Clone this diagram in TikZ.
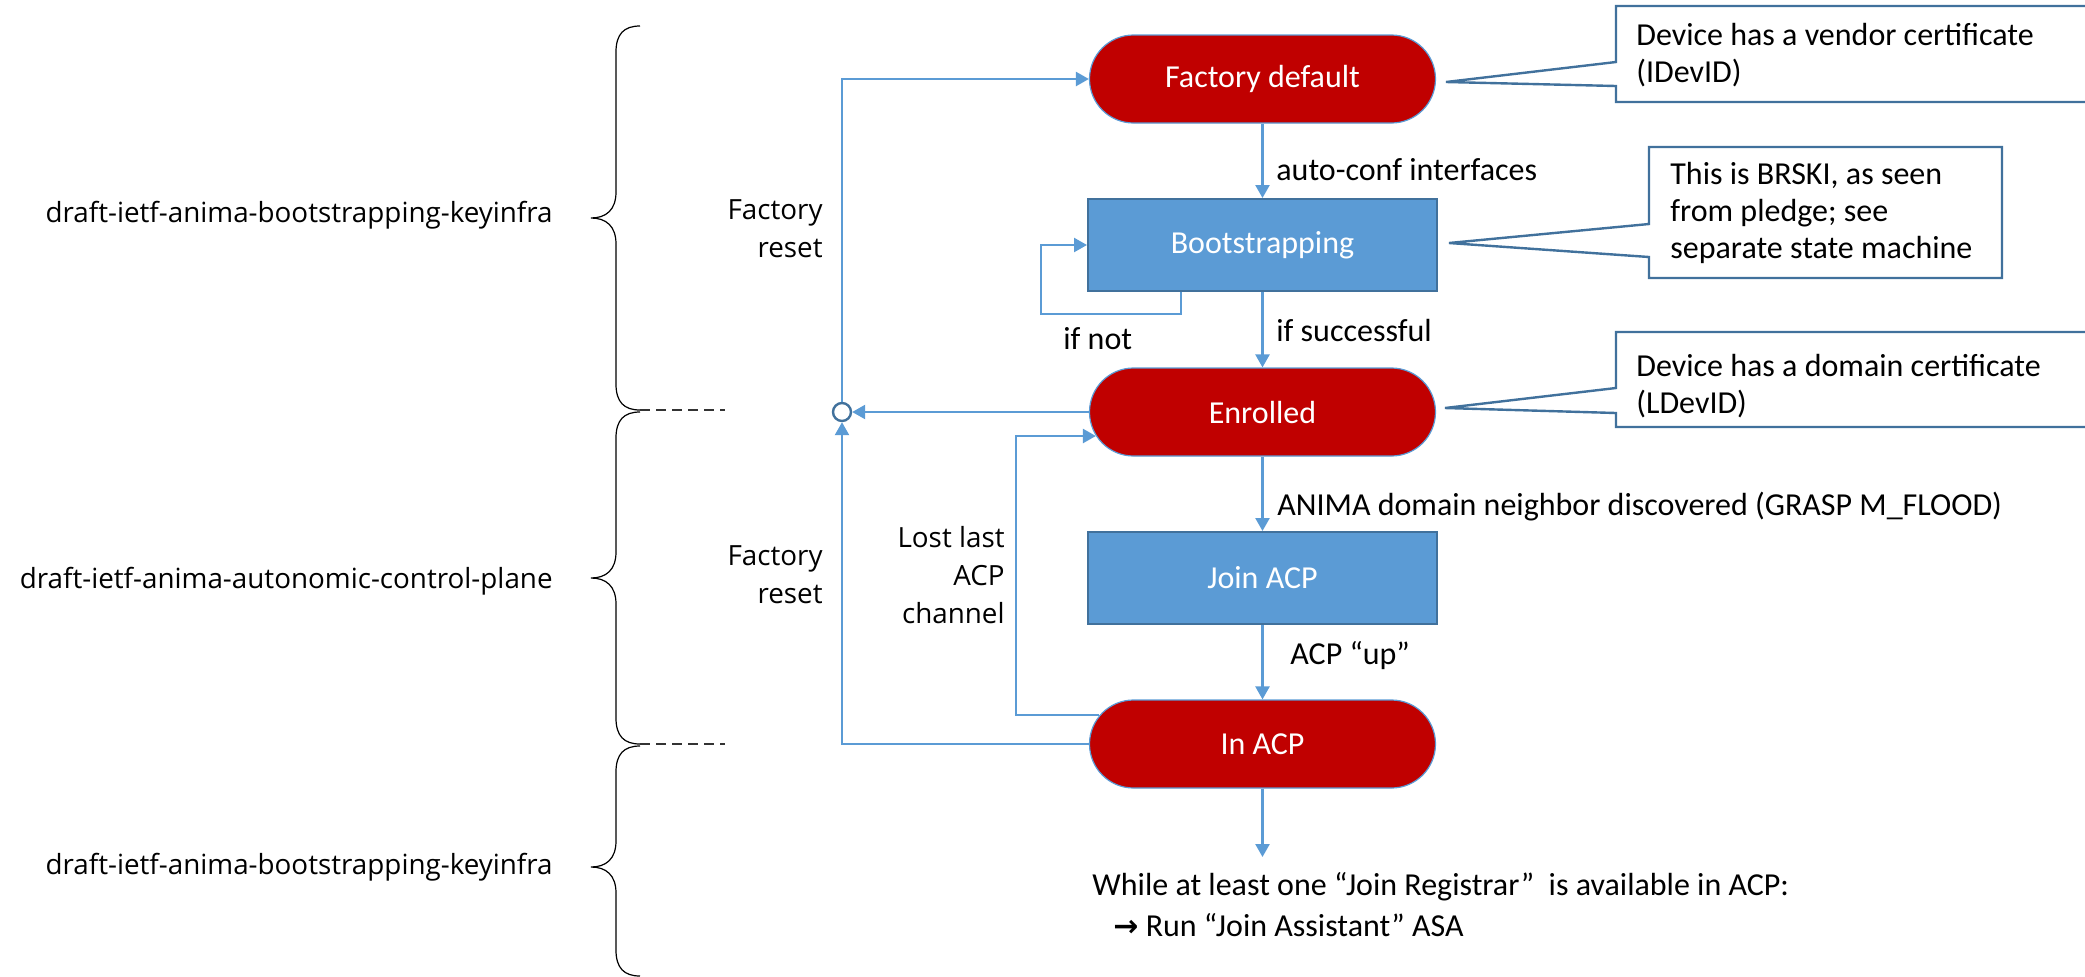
\documentclass[tikz,border=0pt]{standalone}
\usepackage{fontspec}
\setmainfont{Carlito}
\newfontfamily\segfont{Open Sans}
\newfontfamily\arrfont{DejaVu Sans}
\usetikzlibrary{arrows.meta}
\definecolor{pillred}{HTML}{C00000}
\definecolor{accent}{HTML}{5B9BD5}
\definecolor{darkblue}{HTML}{41719C}
\begin{document}
\begin{tikzpicture}[x=0.5pt,y=-0.5pt,
  pill/.style={draw=accent, line width=0.6pt, fill=pillred, rounded corners=22pt,
    minimum width=173pt, minimum height=44pt, text=white, inner sep=0pt,
    font=\fontsize{16}{18}\selectfont},
  stepbox/.style={draw=darkblue, line width=1pt, fill=accent, minimum width=174.5pt,
    minimum height=46pt, text=white, inner sep=0pt, font=\fontsize{16}{18}\selectfont},
  flow/.style={draw=accent, line width=1.2pt, -{Triangle[length=6.5pt,width=7pt]}},
  lbl/.style={font=\fontsize{16}{18.5}\selectfont, inner sep=0pt, align=left},
  seglbl/.style={font=\segfont\fontsize{13.9}{19}\selectfont, inner sep=0pt},
  callout/.style={draw=darkblue, fill=white, line width=1.2pt},
  brace/.style={draw=black, line width=0.6pt},
  sep/.style={draw=black!80, line width=0.6pt, dash pattern=on 5pt off 3pt}
]
\useasboundingbox (0,0) rectangle (2085,976);
\clip (0,0) rectangle (2085,976);

% left labels
\node[seglbl, anchor=east] (l1) at (553,215) {draft-ietf-anima-bootstrapping-keyinfra};
\node[seglbl, anchor=east] (l2) at (553,581) {draft-ietf-anima-autonomic-control-plane};
\node[seglbl, anchor=east] (l3) at (553,867) {draft-ietf-anima-bootstrapping-keyinfra};

% braces
\path[brace] (640,26) .. controls (624,26) and (616,34) .. (616,52) -- (616,192)
  .. controls (616,210) and (606,218) .. (591,218) .. controls (606,218) and (616,226) .. (616,244)
  -- (616,384) .. controls (616,402) and (624,410) .. (640,410);
\path[brace] (640,412) .. controls (624,412) and (616,420) .. (616,438) -- (616,552)
  .. controls (616,570) and (606,578) .. (591,578) .. controls (606,578) and (616,586) .. (616,604)
  -- (616,718) .. controls (616,736) and (624,744) .. (640,744);
\path[brace] (640,746) .. controls (624,746) and (616,754) .. (616,772) -- (616,841)
  .. controls (616,859) and (606,867) .. (591,867) .. controls (606,867) and (616,875) .. (616,893)
  -- (616,950) .. controls (616,968) and (624,976) .. (640,976);
\path[sep] (640,410) -- (725,410);
\path[sep] (640,744) -- (725,744);

% callouts
\path[callout] (1616,6) -- (2110,6) -- (2110,102) -- (1616,102) -- (1616,86) -- (1446,82) -- (1616,62) -- cycle;
\node[lbl, anchor=west] (t1) at (1636,55) {Device has a vendor certificate\\(IDevID)};
\path[callout] (1649,147) -- (2002,147) -- (2002,278) -- (1649,278) -- (1649,257) -- (1449,243) -- (1649,224) -- cycle;
\node[lbl, anchor=west] (t2) at (1670,213) {This is BRSKI, as seen\\from pledge; see\\separate state machine};
\path[callout] (1616,332) -- (2110,332) -- (2110,427) -- (1616,427) -- (1616,413) -- (1445,408) -- (1616,388) -- cycle;
\node[lbl, anchor=west] (t3) at (1636,386) {Device has a domain certificate\\(LDevID)};

% states
\node[pill] (fd) at (1262.5,79) {Factory default};
\node[stepbox] (bs) at (1262.5,245) {Bootstrapping};
\node[pill] (en) at (1262.5,412) {Enrolled};
\node[stepbox] (jo) at (1262.5,578) {Join ACP};
\node[pill] (ia) at (1262.5,744) {In ACP};
\coordinate (out) at (1262.5,857);
\node[circle, draw=darkblue, fill=white, line width=1.2pt, minimum size=9pt, inner sep=0pt] (c) at (842,412) {};

% connectors
\draw[flow] (fd) -- (bs);
\draw[flow] (bs) -- (en);
\draw[flow] (en) -- (jo);
\draw[flow] (jo) -- (ia);
\draw[flow] (ia) -- (out);
\draw[flow] (en.west) -- (c);
\draw[flow] (ia.west) -| (c);
\draw[flow] (c) |- (fd.west);
\draw[flow] ([xshift=-40.75pt]bs.south) -- ++(0,22) -- ++(-140,0) |- (bs.west);
\draw[flow] ([xshift=5pt,yshift=14.5pt]ia.west) -- ++(-83,0) |- ([xshift=3.5pt,yshift=-12pt]en.west);

% edge labels
\node[lbl, anchor=west] (e1) at (1276,170) {auto-conf interfaces};
\node[lbl, anchor=west] (e2) at (1276,330) {if successful};
\node[lbl, anchor=west] (e3) at (1063,339) {if not};
\node[lbl, anchor=west] (e4) at (1277,507) {ANIMA domain neighbor discovered (GRASP M\_FLOOD)};
\node[lbl, anchor=west] (e5) at (1290,656) {ACP “up”};
\node[seglbl, anchor=east, align=right] (fr1) at (823,229) {Factory\\reset};
\node[seglbl, anchor=east, align=right] (fr2) at (823,575) {Factory\\reset};
\node[seglbl, anchor=east, align=right] (ll) at (1005,575) {Lost last\\ACP\\channel};

% bottom text
\node[lbl, anchor=west] (b1) at (1092,887) {While at least one “Join Registrar”\ \ is available in ACP:};
\node[lbl, anchor=west] (b2) at (1113,925) {{\arrfont\bfseries\fontsize{15}{16}\selectfont →} Run “Join Assistant” ASA};
\end{tikzpicture}
\end{document}
